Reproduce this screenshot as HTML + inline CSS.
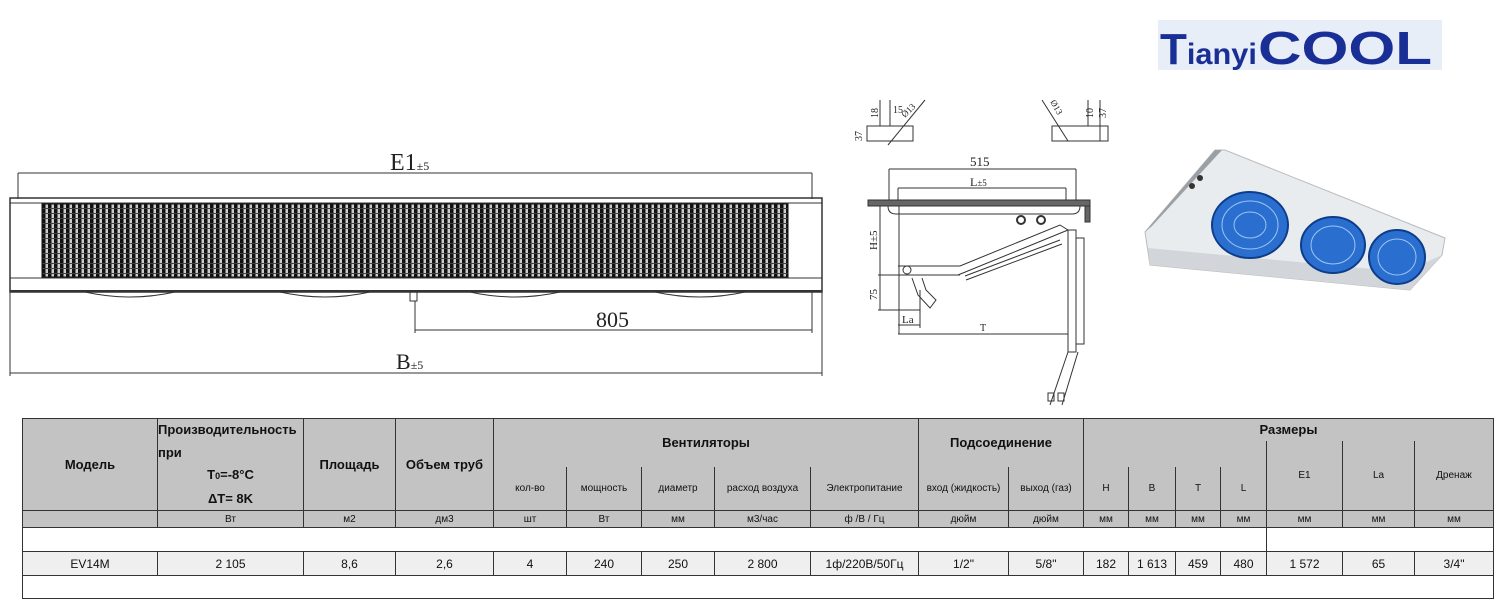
<!DOCTYPE html>
<html><head><meta charset="utf-8"><style>
body{margin:0;width:1505px;height:611px;background:#fff;position:relative;overflow:hidden;font-family:"Liberation Sans",sans-serif}
svg{position:absolute;left:0;top:0}
table{position:absolute;left:22px;top:418px;border-collapse:collapse;table-layout:fixed;font-family:"Liberation Sans",sans-serif;color:#111}
td{border:1px solid #333;padding:0;text-align:center;font-size:10px;overflow:hidden;white-space:nowrap;box-sizing:border-box}
.g td,td.g{background:#c3c3c3}
.b{font-weight:bold;font-size:13px}
tr.d td{font-size:12px}
</style></head><body>
<svg width="1505" height="611" viewBox="0 0 1505 611">
<defs>
<pattern id="coil" width="6" height="5" patternUnits="userSpaceOnUse">
<rect width="6" height="5" fill="#ccc"/><rect x="0" width="3.5" height="5" fill="#111"/><rect y="3" width="6" height="1" fill="#444"/>
</pattern>
</defs>
<g stroke="#333" fill="none" stroke-width="1">
<line x1="18" y1="173" x2="812" y2="173"/><line x1="18" y1="173" x2="18" y2="199"/><line x1="812" y1="173" x2="812" y2="199"/>
<rect x="10" y="198" width="812" height="94" stroke-width="1.5"/>
<line x1="10" y1="203" x2="822" y2="203"/>
<rect x="42" y="204" width="746" height="73" fill="url(#coil)" stroke="#111"/>
<line x1="10" y1="278" x2="822" y2="278"/>
<line x1="10" y1="291" x2="822" y2="291" stroke-width="2"/>
<path d="M85 292 q45 10 90 0 M280 292 q45 10 90 0 M470 292 q45 10 90 0 M655 292 q45 10 90 0"/>
<rect x="410" y="292" width="7" height="9"/>
<line x1="415" y1="301" x2="415" y2="333"/>
<line x1="415" y1="330" x2="812" y2="330"/><line x1="812" y1="292" x2="812" y2="333"/>
<line x1="10" y1="292" x2="10" y2="376"/><line x1="822" y1="292" x2="822" y2="376"/>
<line x1="10" y1="373" x2="822" y2="373"/>
<rect x="867" y="126" width="46" height="15"/><line x1="880" y1="100" x2="880" y2="126"/><line x1="890" y1="100" x2="890" y2="126"/><line x1="888" y1="145" x2="925" y2="100"/>
<rect x="1052" y="126" width="56" height="15"/><line x1="1088" y1="100" x2="1088" y2="126"/><line x1="1100" y1="100" x2="1100" y2="141"/><line x1="1042" y1="100" x2="1068" y2="141"/>
<line x1="889" y1="169" x2="1076" y2="169"/><line x1="889" y1="169" x2="889" y2="200"/><line x1="1076" y1="169" x2="1076" y2="200"/>
<line x1="898" y1="188" x2="1066" y2="188"/><line x1="898" y1="188" x2="898" y2="200"/><line x1="1066" y1="188" x2="1066" y2="200"/>
<rect x="868" y="200" width="222" height="6" fill="#666" stroke="#333"/>
<rect x="1085" y="206" width="5" height="16" fill="#666"/>
<path d="M888 206 q0 8 8 8 L1072 214 q8 0 8 -8"/>
<line x1="899" y1="206" x2="899" y2="334"/>
<line x1="880" y1="206" x2="880" y2="310"/><line x1="878" y1="275" x2="960" y2="275"/><line x1="878" y1="310" x2="920" y2="310"/>
<path d="M898 266 L960 266 L1060 225 L1068 230 L958 275"/>
<circle cx="907" cy="270" r="4"/>
<path d="M912 278 L918 295 L930 308 L936 300 L926 290 L922 278"/>
<line x1="965" y1="276" x2="1060" y2="240"/><line x1="966" y1="280" x2="1062" y2="244"/>
<circle cx="1021" cy="220" r="4" stroke-width="2"/><circle cx="1041" cy="220" r="4" stroke-width="2"/>
<line x1="898" y1="325" x2="920" y2="325"/><line x1="920" y1="290" x2="920" y2="328"/>
<line x1="898" y1="334" x2="1068" y2="334"/>
<rect x="1068" y="230" width="8" height="122"/><rect x="1076" y="238" width="8" height="106"/>
<path d="M1068 352 L1050 405 M1078 352 L1062 405"/><rect x="1048" y="393" width="6" height="8"/><rect x="1058" y="393" width="6" height="8"/>
</g>
<g font-family="Liberation Serif,serif" fill="#222">
<text x="390" y="170" font-size="24">E1<tspan font-size="12">±5</tspan></text>
<text x="596" y="327" font-size="22">805</text>
<text x="396" y="369" font-size="22">B<tspan font-size="12">±5</tspan></text>
<text x="970" y="166" font-size="13">515</text>
<text x="970" y="186" font-size="12">L<tspan font-size="9">±5</tspan></text>
<text x="902" y="323" font-size="11">La</text>
<text x="980" y="331" font-size="10">T</text>
<text font-size="11" transform="translate(877,250) rotate(-90)">H±5</text>
<text font-size="11" transform="translate(877,300) rotate(-90)">75</text>
<text font-size="10" transform="translate(862,141) rotate(-90)">37</text>
<text font-size="10" transform="translate(878,118) rotate(-90)">18</text>
<text x="893" y="113" font-size="10">15</text>
<text font-size="9" transform="translate(905,118) rotate(-45)">Ø13</text>
<text font-size="10" transform="translate(1093,118) rotate(-90)">10</text>
<text font-size="10" transform="translate(1106,118) rotate(-90)">37</text>
<text font-size="9" transform="translate(1050,102) rotate(60)">Ø13</text>
</g>
<rect x="1158" y="20" width="284" height="50" fill="#e8eef8"/>
<text x="1160" y="64" font-family="Liberation Sans,sans-serif" font-weight="bold" fill="#1a2f96"><tspan font-size="44">T</tspan><tspan font-size="30" textLength="70" lengthAdjust="spacingAndGlyphs">ianyi</tspan><tspan font-size="46" x="1258" textLength="174" lengthAdjust="spacingAndGlyphs">COOL</tspan></text>
<path d="M1145 232 L1215 150 L1225 150 L1445 238 L1442 255 L1410 290 L1150 265 Z" fill="#e9ecef" stroke="#bbb"/>
<path d="M1145 232 L1215 150 L1222 150 L1152 226 Z" fill="#9aa0a6"/>
<path d="M1150 265 L1410 290 L1442 255 L1405 272 L1148 248Z" fill="#d2d6da"/>
<g fill="#2a6fd0" stroke="#0d3d8a" stroke-width="2">
<ellipse cx="1250" cy="225" rx="38" ry="33"/><ellipse cx="1333" cy="245" rx="32" ry="28"/><ellipse cx="1397" cy="257" rx="28" ry="27"/>
</g>
<g fill="none" stroke="#9cc4f0" stroke-width="1">
<ellipse cx="1250" cy="225" rx="28" ry="24"/><ellipse cx="1250" cy="225" rx="16" ry="13"/><ellipse cx="1333" cy="245" rx="22" ry="19"/><ellipse cx="1397" cy="257" rx="19" ry="18"/>
</g>
<circle cx="1192" cy="186" r="3" fill="#333"/><circle cx="1200" cy="178" r="3" fill="#333"/>
</svg>
<table>
<colgroup><col style="width:135px"><col style="width:146px"><col style="width:92px"><col style="width:98px"><col style="width:73px"><col style="width:75px"><col style="width:73px"><col style="width:96px"><col style="width:108px"><col style="width:90px"><col style="width:75px"><col style="width:45px"><col style="width:47px"><col style="width:45px"><col style="width:46px"><col style="width:76px"><col style="width:72px"><col style="width:79px"></colgroup>
<tr class="g" style="height:22px"><td rowspan="3" class="b" style="border-bottom:none">Модель</td><td rowspan="3" class="b" style="text-align:left;line-height:22.5px;white-space:normal;vertical-align:top;border-bottom:none">Производительность при<div style="text-align:center">T<span style="font-size:9px">0</span>=-8°C<br>ΔT= 8K</div></td><td rowspan="3" class="b" style="border-bottom:none">Площадь</td><td rowspan="3" class="b" style="border-bottom:none">Объем труб</td><td colspan="5" rowspan="2" class="b" style="border-bottom:none">Вентиляторы</td><td colspan="2" rowspan="2" class="b" style="border-bottom:none">Подсоединение</td><td colspan="7" class="b" style="border-bottom:none">Размеры</td></tr>
<tr class="g" style="height:24px"><td colspan="4" style="border:none"></td><td rowspan="2" style="border-top:none;border-bottom:none">E1</td><td rowspan="2" style="border-top:none;border-bottom:none">La</td><td rowspan="2" style="border-top:none;border-bottom:none">Дренаж</td></tr>
<tr class="g" style="height:44px"><td style="border-top:none;border-bottom:none">кол-во</td><td style="border-top:none;border-bottom:none">мощность</td><td style="border-top:none;border-bottom:none">диаметр</td><td style="border-top:none;border-bottom:none">расход воздуха</td><td style="border-top:none;border-bottom:none">Электропитание</td><td style="border-top:none;border-bottom:none">вход (жидкость)</td><td style="border-top:none;border-bottom:none">выход (газ)</td><td style="border-top:none;border-bottom:none">H</td><td style="border-top:none;border-bottom:none">B</td><td style="border-top:none;border-bottom:none">T</td><td style="border-top:none;border-bottom:none">L</td></tr>
<tr class="g" style="height:17px"><td></td><td>Вт</td><td>м2</td><td>дм3</td><td>шт</td><td>Вт</td><td>мм</td><td>м3/час</td><td>ф /В / Гц</td><td>дюйм</td><td>дюйм</td><td>мм</td><td>мм</td><td>мм</td><td>мм</td><td>мм</td><td>мм</td><td>мм</td></tr>
<tr style="height:24px"><td colspan="15" style="border-right:1px solid #333"></td><td colspan="3"></td></tr>
<tr class="d" style="height:24px;background:#efefef"><td>EV14M</td><td>2 105</td><td>8,6</td><td>2,6</td><td>4</td><td>240</td><td>250</td><td>2 800</td><td>1ф/220В/50Гц</td><td>1/2"</td><td>5/8"</td><td>182</td><td>1 613</td><td>459</td><td>480</td><td>1 572</td><td>65</td><td>3/4"</td></tr>
<tr style="height:23px"><td colspan="18"></td></tr>
</table>
</body></html>
